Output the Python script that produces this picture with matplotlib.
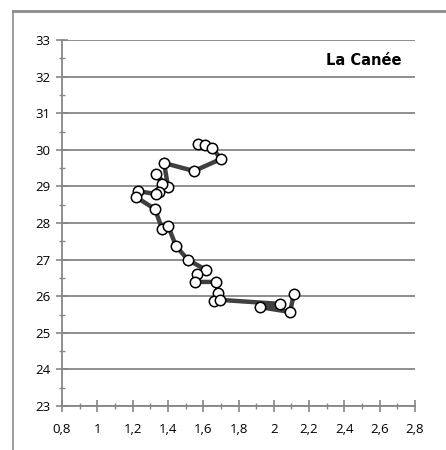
import matplotlib
matplotlib.use("Agg")
import matplotlib.pyplot as plt
from matplotlib.ticker import MultipleLocator, FuncFormatter
from matplotlib.lines import Line2D

x_vals = [1.571, 1.610, 1.650, 1.701, 1.548, 1.378, 1.401, 1.333, 1.367, 1.350,
          1.333, 1.231, 1.219, 1.327, 1.367, 1.401, 1.446, 1.514, 1.616, 1.565,
          1.554, 1.673, 1.684, 1.661, 1.695, 2.035, 1.922, 2.092, 2.114]
y_vals = [30.16, 30.13, 30.05, 29.75, 29.42, 29.64, 28.98, 29.34, 29.07, 28.85,
          28.79, 28.87, 28.71, 28.38, 27.84, 27.92, 27.37, 26.99, 26.72, 26.61,
          26.39, 26.39, 26.09, 25.87, 25.90, 25.79, 25.70, 25.57, 26.06]
title = "La Canée"

fig = plt.figure(figsize=(4.46, 4.50), dpi=100)
W, H = 446, 450

# chart area border (left and top visible)
fig.add_artist(Line2D([13/W, 13/W], [0, 1 - 11/H], color="#8c8c8c", lw=1.2, transform=fig.transFigure))
fig.add_artist(Line2D([13/W, 1], [1 - 11/H, 1 - 11/H], color="#8c8c8c", lw=2.0, transform=fig.transFigure))

ax = fig.add_axes([62/W, 1 - 406/H, (415 - 62)/W, (406 - 40)/H])
ax.set_xlim(0.8, 2.8)
ax.set_ylim(23, 33)

ax.xaxis.set_major_locator(MultipleLocator(0.2))
ax.xaxis.set_minor_locator(MultipleLocator(0.1))
ax.yaxis.set_major_locator(MultipleLocator(1))
ax.yaxis.set_minor_locator(MultipleLocator(0.5))

def fmt_x(v, pos):
    s = f"{v:.1f}"
    if s.endswith(".0"):
        s = s[:-2]
    return s.replace(".", ",")
ax.xaxis.set_major_formatter(FuncFormatter(fmt_x))
ax.yaxis.set_major_formatter(FuncFormatter(lambda v, p: f"{int(round(v))}"))

ax.grid(axis="y", which="major", color="#868686", lw=1.3)
ax.set_axisbelow(True)
for s in ["top", "right"]:
    ax.spines[s].set_visible(False)
for s in ["left", "bottom"]:
    ax.spines[s].set_color("#868686")
    ax.spines[s].set_linewidth(1.3)

ax.tick_params(which="major", direction="inout", length=9, width=1.2, color="#868686",
               labelsize=9.5, labelcolor="#000000")
ax.tick_params(which="minor", direction="inout", length=5, width=1.0, color="#868686")
ax.tick_params(axis="x", which="major", pad=8)
ax.tick_params(axis="y", which="major", pad=4)

ax.plot(x_vals, y_vals, color="#404040", lw=3.2, marker="o", markersize=7.5,
        markerfacecolor="white", markeredgecolor="black", markeredgewidth=1.1,
        solid_joinstyle="round", clip_on=False, zorder=3)

ax.text(0.855, 0.945, title, transform=ax.transAxes, ha="center", va="center",
        fontsize=10.5, fontweight="bold")

for lab in ax.get_xticklabels() + ax.get_yticklabels():
    lab.set_fontfamily("Open Sans")

fig.savefig("out.png", dpi=100)
